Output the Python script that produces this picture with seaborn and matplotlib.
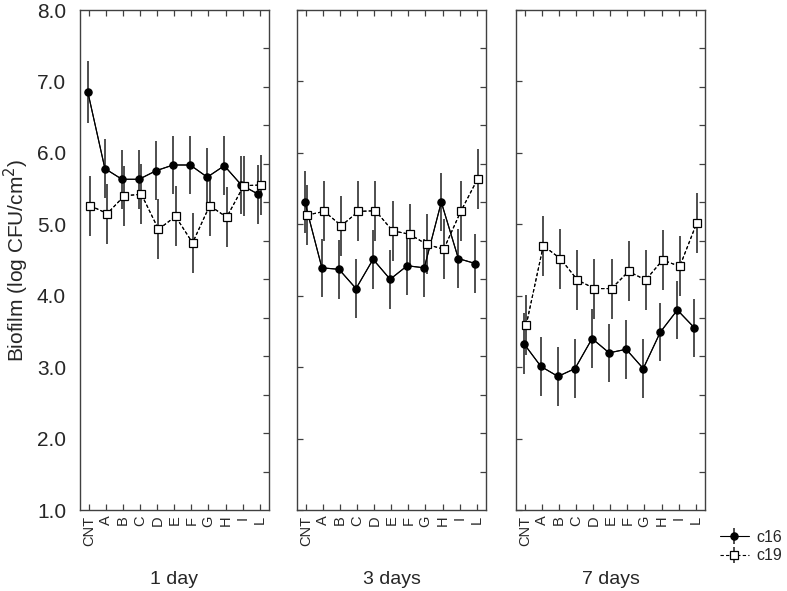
import numpy as np
import pandas as pd
import seaborn as sns
import matplotlib.pyplot as plt

# Data
groups = ['CNT', 'A', 'B', 'C', 'D', 'E', 'F', 'G', 'H', 'I', 'L']
days = ['1 day', '3 days', '7 days']

c16_day1 = [6.85, 5.78, 5.63, 5.63, 5.75, 5.83, 5.83, 5.66, 5.82, 5.55, 5.42]
c16_day3 = [5.31, 4.39, 4.37, 4.10, 4.51, 4.23, 4.42, 4.39, 5.31, 4.52, 4.45]
c16_day7 = [3.33, 3.01, 2.87, 2.98, 3.40, 3.20, 3.25, 2.98, 3.49, 3.80, 3.55]

c19_day1 = [5.26, 5.15, 5.40, 5.42, 4.93, 5.11, 4.74, 5.26, 5.10, 5.54, 5.55]
c19_day3 = [5.13, 5.18, 4.98, 5.18, 5.19, 4.91, 4.86, 4.72, 4.65, 5.18, 5.64]
c19_day7 = [3.59, 4.70, 4.52, 4.22, 4.10, 4.10, 4.34, 4.22, 4.50, 4.41, 5.02]

# half-width of the error bars
c16_err = [0.43, 0.41, 0.41, 0.41, 0.41, 0.41, 0.41, 0.41, 0.41, 0.41, 0.41]
c19_err = [0.42, 0.42, 0.42, 0.42, 0.42, 0.42, 0.42, 0.42, 0.42, 0.42, 0.42]

rows = []
for day, a, b in zip(days, [c16_day1, c16_day3, c16_day7], [c19_day1, c19_day3, c19_day7]):
    for i, g in enumerate(groups):
        rows.append([day, g, i, 'c16', a[i], c16_err[i]])
        rows.append([day, g, i, 'c19', b[i], c19_err[i]])
df = pd.DataFrame(rows, columns=['day', 'group', 'pos', 'strain', 'mean', 'err'])

sns.set_theme(style='ticks')
plt.rcParams['font.family'] = ['Liberation Sans', 'DejaVu Sans']

fig = plt.figure(figsize=(7.87, 5.91), dpi=100)
lefts = [80 / 787, 297 / 787, 516 / 787]
w = 189 / 787
bottom = 1 - 510 / 591
h = 500 / 591

dodge = {'c16': -0.07, 'c19': 0.07}
style = {
    'c16': dict(marker='o', mfc='black', ls='-'),
    'c19': dict(marker='s', mfc='white', ls='--'),
}
spine_col = '#404040'

handles = {}
for k, day in enumerate(days):
    ax = fig.add_axes([lefts[k], bottom, w, h])
    sub = df[df['day'] == day]
    for strain in ['c16', 'c19']:
        s = sub[sub['strain'] == strain]
        x = s['pos'] + dodge[strain]
        st = style[strain]
        sns.lineplot(x=x.values, y=s['mean'].values, ax=ax, color='black',
                     lw=0.8, linestyle=st['ls'], legend=False)
        if strain == 'c19':
            ax.lines[-1].set_dashes((3, 2))
        eb = ax.errorbar(x, s['mean'], yerr=s['err'], fmt=st['marker'],
                         mfc=st['mfc'], mec='black', mew=0.9, ms=5.2,
                         ecolor='#303030', elinewidth=1.2, capsize=0,
                         ls=st['ls'], color='black', lw=0.8, zorder=3)
        if strain == 'c19':
            eb.lines[0].set_dashes((3, 2))
        handles[strain] = eb

    ax.set_xlim(-0.53, 10.55)
    ax.set_ylim(1, 8)
    ax.set_xticks(range(len(groups)))
    ax.set_xticklabels(groups, rotation=90, fontsize=10.5)
    ax.set_yticks(np.arange(1, 9))
    ax.tick_params(axis='x', direction='in', top=True, length=4, width=0.9,
                   color=spine_col, pad=4)
    ax.tick_params(axis='y', direction='in', length=4, width=0.9, color=spine_col)
    if k == 0:
        ax.set_yticklabels([f'{v:.1f}' for v in np.arange(1, 9)], fontsize=15)
        ax.tick_params(axis='y', length=0, pad=10)
        ax.set_ylabel('Biofilm (log CFU/cm$^2$)', fontsize=15, labelpad=4)
    else:
        ax.set_yticklabels([])
    ax.set_xlabel(day, fontsize=14, labelpad=18)
    for sp in ax.spines.values():
        sp.set_color(spine_col)
        sp.set_linewidth(1.0)
        sp.set_visible(True)

    # right side inner ticks
    ax2 = ax.twinx()
    ax2.set_ylim(0, 13)
    ax2.set_yticks(np.arange(1, 13))
    ax2.set_yticklabels([])
    ax2.tick_params(axis='y', direction='in', length=4, width=0.9, color=spine_col)
    for sp in ax2.spines.values():
        sp.set_visible(False)

fig.legend([handles['c16'], handles['c19']], ['c16', 'c19'],
           loc='upper left', bbox_to_anchor=(720 / 787, 1 - 530 / 591),
           frameon=False, fontsize=11.5, handlelength=1.8, handletextpad=0.5,
           borderpad=0, borderaxespad=0, labelspacing=0.2)

fig.savefig('out.png', dpi=100)
